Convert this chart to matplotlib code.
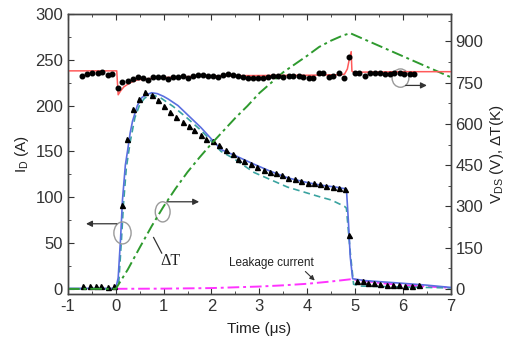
import matplotlib
matplotlib.use("Agg")
import matplotlib.pyplot as plt
from matplotlib.patches import Ellipse
from matplotlib.ticker import MultipleLocator
import numpy as np

plt.rcParams['font.family'] = ['Liberation Sans', 'DejaVu Sans']
plt.rcParams['mathtext.fontset'] = 'custom'
plt.rcParams['mathtext.rm'] = 'Liberation Sans'
plt.rcParams['mathtext.it'] = 'Liberation Sans:italic'
plt.rcParams['axes.unicode_minus'] = False

# ---- data ----
# Measured drain current (triangles), A
tri_t = [-0.68, -0.54, -0.42, -0.30, -0.17, -0.04, 0.12, 0.23, 0.36, 0.49, 0.61, 0.75,
         0.88, 1.01, 1.14, 1.26, 1.40, 1.52, 1.64, 1.78, 1.89, 2.03, 2.15, 2.30, 2.44,
         2.56, 2.69, 2.83, 2.96, 3.09, 3.22, 3.34, 3.47, 3.60, 3.74, 3.88, 4.01, 4.15,
         4.27, 4.40, 4.54, 4.66, 4.80, 4.88, 5.04, 5.16, 5.28, 5.40, 5.53, 5.66, 5.79,
         5.91, 6.05, 6.19, 6.33]
tri_i = [3, 3, 3, 3, 2, 3, 92, 164, 196, 207, 215, 212,
         206, 200, 193, 188, 182, 178, 173, 168, 164, 161, 157, 152, 147,
         142, 139, 136, 133, 130, 128, 126, 124, 121, 120, 118, 116, 115,
         114, 112, 111, 110, 109, 59, 9, 8, 6, 6, 5, 4, 4,
         4, 3, 3, 4]

# Simulated drain current (solid blue), A
sim_t = [-1.0, 0.0, 0.05, 0.10, 0.14, 0.20, 0.25, 0.30, 0.35, 0.45, 0.55, 0.65, 0.75,
         0.87, 1.00, 1.10, 1.30, 1.50, 1.78, 2.06, 2.20, 2.47, 2.89, 3.20, 3.60, 4.00,
         4.30, 4.60, 4.82, 4.86, 4.90, 4.95, 5.20, 5.60, 6.00, 6.50, 7.00]
sim_i = [0.5, 0.5, 12, 55, 97, 135, 152, 170, 183, 200, 209, 212, 214,
         213, 210, 207, 200, 190, 176, 160, 152, 146, 136, 129, 121, 116,
         113, 111, 109, 75, 35, 11, 9, 7.5, 6, 4, 1.5]

# Simulated drain current variant (dashed), A
dash_t = [-1.0, 0.0, 0.06, 0.12, 0.16, 0.22, 0.30, 0.40, 0.50, 0.60, 0.70, 0.80,
          0.95, 1.20, 1.50, 1.80, 2.20, 2.47, 2.89, 3.59, 4.29, 4.50, 4.78, 4.82,
          4.90, 4.97, 5.10, 6.00, 7.00]
dash_i = [0, 0, 5, 55, 92, 132, 160, 187, 201, 208, 211, 211,
          208, 199, 186, 172, 150, 142, 127, 111, 100, 97, 90, 88,
          40, 5, 3, 2, 1]

# Leakage current (magenta dash-dot), A
leak_t = [0.0, 1.0, 2.0, 3.0, 3.5, 4.0, 4.5, 4.92, 5.5, 6.0, 6.5, 7.0]
leak_i = [0, 0.2, 0.8, 2.5, 3.8, 5.5, 8.0, 10.5, 6.5, 4.0, 2.5, 1.2]

# Simulated Vds (red line), V
vsim_t = [-1.0, 0.02, 0.05, 0.10, 0.17, 0.30, 0.45, 0.70, 0.94, 1.50, 2.00, 3.00,
          4.00, 4.70, 4.78, 4.84, 4.88, 4.92, 4.935, 4.97, 6.00, 7.00]
vsim_v = [793, 793, 706, 720, 735, 750, 760, 765, 768, 772, 775, 776,
          777, 779, 781, 800, 835, 863, 792, 788, 790, 790]

# Measured Vds (black dots), V
vds_t = [-0.70, -0.60, -0.49, -0.38, -0.28, -0.17, -0.07, 0.04, 0.14, 0.25, 0.35, 0.46,
         0.56, 0.67, 0.77, 0.88, 0.98, 1.09, 1.19, 1.30, 1.40, 1.51, 1.61, 1.72, 1.82,
         1.93, 2.03, 2.14, 2.24, 2.35, 2.45, 2.56, 2.66, 2.77, 2.87, 2.98, 3.08, 3.19,
         3.29, 3.40, 3.50, 3.61, 3.71, 3.82, 3.92, 4.03, 4.13, 4.24, 4.34, 4.45, 4.55,
         4.66, 4.77, 4.88, 5.00, 5.09, 5.21, 5.32, 5.42, 5.53, 5.63, 5.74, 5.82, 5.94,
         6.03, 6.14, 6.24]
vds_v = [776, 782, 785, 787, 790, 778, 782, 730, 753, 756, 763, 772,
         766, 760, 770, 770, 770, 763, 770, 772, 775, 768, 773, 778, 778,
         775, 776, 772, 778, 780, 778, 776, 770, 768, 768, 768, 768, 770,
         773, 773, 770, 775, 776, 773, 770, 768, 768, 786, 786, 770, 776,
         786, 768, 845, 786, 786, 775, 786, 784, 784, 783, 781, 787, 784,
         782, 782, 782]

# Temperature rise (green dash-dot), K
dT_t = [-1.0, 0.0, 0.25, 0.50, 0.75, 1.00, 1.25, 1.50, 1.75, 2.00, 2.25, 2.50, 2.75,
        3.00, 3.25, 3.50, 3.75, 4.00, 4.25, 4.50, 4.75, 4.90, 7.00]
dT_v = [0, 0, 70, 150, 228, 300, 365, 425, 478, 528, 575, 622, 665,
        712, 750, 788, 818, 848, 880, 903, 922, 930, 770]

# ---- figure ----
fig = plt.figure(figsize=(5.07, 3.49), dpi=100)
ax = fig.add_axes([0.134, 0.158, 0.755, 0.802])
ax2 = ax.twinx()

ax.plot(dT_t[:2], [0, 0], color='#2e9a2e', lw=1.4, dashes=(6, 2, 1.5, 2), zorder=1)
ax.plot(leak_t, leak_i, color='#ff33ff', lw=1.4, dashes=(6, 2, 1.5, 2), zorder=2)
ax.plot(dash_t, dash_i, color='#3aa3a0', lw=1.2, dashes=(4, 2.5), zorder=3)
ax.plot(sim_t, sim_i, color='#5a6fe0', lw=1.2, zorder=4)
ax.plot(tri_t, tri_i, ls='none', marker='^', ms=3.6, color='black', zorder=5)

ax2.plot(dT_t, dT_v, color='#2e9a2e', lw=1.4, dashes=(6, 2, 1.5, 2), zorder=1)
ax2.plot(vsim_t, vsim_v, color='#ff5a5a', lw=1.1, zorder=2)
ax2.plot(vds_t, vds_v, ls='none', marker='o', ms=3.3, color='black', zorder=3)

ax.set_xlim(-1, 7)
ax.set_ylim(-5.5, 300)
ax2.set_ylim(-18.3, 1000)

ax.xaxis.set_major_locator(MultipleLocator(1))
ax.xaxis.set_minor_locator(MultipleLocator(0.5))
ax.yaxis.set_major_locator(MultipleLocator(50))
ax.yaxis.set_minor_locator(MultipleLocator(25))
ax2.yaxis.set_major_locator(MultipleLocator(150))
ax2.yaxis.set_minor_locator(MultipleLocator(75))
ax2.set_yticks([0, 150, 300, 450, 600, 750, 900])

ax.tick_params(which='both', direction='in', top=True, right=False, labelsize=12,
               colors='#333333')
ax.tick_params(which='major', length=4)
ax.tick_params(which='minor', length=2.5)
ax2.tick_params(which='both', direction='in', labelsize=12, colors='#333333')
ax2.tick_params(which='major', length=4)
ax2.tick_params(which='minor', length=2.5)
for a in (ax, ax2):
    for s in a.spines.values():
        s.set_color('#444444')
        s.set_linewidth(1.0)

ax.set_xlabel('Time (\u03bcs)', fontsize=11, color='#222222', labelpad=6)
ax.set_ylabel('I$_\\mathrm{D}$ (A)', fontsize=11, color='#222222', labelpad=3)
ax2.set_ylabel('V$_\\mathrm{DS}$ (V), \u0394T(K)', fontsize=11, color='#222222', labelpad=3)

# ---- annotations ----
grey = '#9a9a9a'
ax.add_patch(Ellipse((0.14, 61), 0.36, 24, fill=False, ec=grey, lw=1.0, zorder=6))
ax.annotate('', xy=(-0.68, 71), xytext=(0.08, 71),
            arrowprops=dict(arrowstyle='-|>', color='#333333', lw=0.9,
                            mutation_scale=9), zorder=6)
ax.add_patch(Ellipse((0.98, 84), 0.31, 22, fill=False, ec=grey, lw=1.0, zorder=6))
ax.annotate('', xy=(1.80, 95), xytext=(1.01, 95),
            arrowprops=dict(arrowstyle='-|>', color='#333333', lw=0.9,
                            mutation_scale=9), zorder=6)
ax.plot([0.79, 0.96], [56, 39], color='#333333', lw=0.9, zorder=6)
ax.text(1.15, 30, '\u0394T', family=['Liberation Serif', 'DejaVu Serif'], fontsize=11.5,
        ha='center', va='center', color='#222222')
ax.add_patch(Ellipse((5.95, 230), 0.35, 20, fill=False, ec=grey, lw=1.0, zorder=6))
ax.annotate('', xy=(6.56, 222), xytext=(6.0, 222),
            arrowprops=dict(arrowstyle='-|>', color='#333333', lw=0.9,
                            mutation_scale=9), zorder=6)
ax.text(3.26, 28, 'Leakage current', fontsize=8.5, ha='center', va='center',
        color='#222222')
ax.annotate('', xy=(4.2, 7), xytext=(3.92, 21),
            arrowprops=dict(arrowstyle='-|>', color='#333333', lw=0.8,
                            mutation_scale=7), zorder=6)

fig.savefig('out.png', dpi=100)
